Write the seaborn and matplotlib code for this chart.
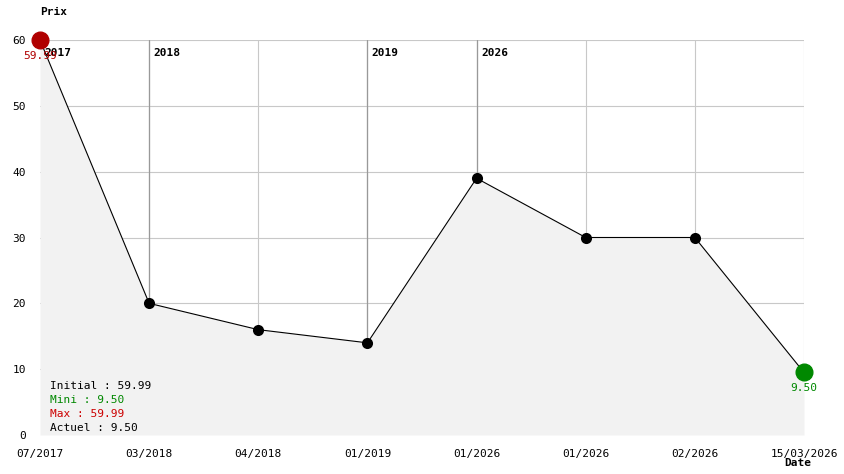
import numpy as np
import pandas as pd
import matplotlib
matplotlib.use("Agg")
import matplotlib.pyplot as plt
import seaborn as sns

# data
dates = ['07/2017', '03/2018', '04/2018', '01/2019', '01/2026', '01/2026', '02/2026', '15/03/2026']
prices = [59.99, 20, 16, 14, 39, 30, 30, 9.50]
year_marks = [(0, '2017'), (1, '2018'), (3, '2019'), (4, '2026')]

sns.set_style("white")
plt.rcParams['font.family'] = ['DejaVu Sans Mono']
plt.rcParams['text.color'] = 'black'
plt.rcParams['xtick.color'] = 'black'
plt.rcParams['ytick.color'] = 'black'

df = pd.DataFrame({'pos': range(len(prices)), 'Prix': prices})

fig = plt.figure(figsize=(8.44, 4.74), dpi=100)
ax = fig.add_axes([40 / 844, 1 - 435 / 474, 764 / 844, 395 / 474])

ax.set_xlim(0, len(prices) - 1)
ax.set_ylim(0, 60)
for s in ax.spines.values():
    s.set_visible(False)

# grid
for v in range(10, 61, 10):
    ax.axhline(v, color='#c8c8c8', lw=0.8, zorder=0)
for i in range(1, len(prices)):
    ax.axvline(i, color='#c8c8c8', lw=0.8, zorder=0)
for i, yr in year_marks:
    if i > 0:
        ax.axvline(i, color='#999999', lw=0.9, zorder=0.5)
    ax.text(i + 0.04, 58.8, yr, fontsize=8, fontweight='bold', va='top', ha='left', zorder=5)

ax.fill_between(df['pos'], df['Prix'], 0, color='#f2f2f2', zorder=1, lw=0)
sns.lineplot(data=df, x='pos', y='Prix', color='black', lw=0.8, marker='o',
             markersize=8, markeredgewidth=0, ax=ax, zorder=3, clip_on=False)

ax.plot(0, prices[0], 'o', color='#b00000', markersize=12, zorder=4, clip_on=False)
ax.plot(len(prices) - 1, prices[-1], 'o', color='#008800', markersize=12, zorder=4, clip_on=False)
ax.text(0, prices[0] - 1.6, f'{prices[0]:.2f}', color='#b00000', fontsize=8, ha='center', va='top', zorder=5)
ax.text(len(prices) - 1, prices[-1] - 1.6, f'{prices[-1]:.2f}', color='#008800', fontsize=8, ha='center', va='top', zorder=5)

ax.set_xticks(range(len(dates)))
ax.set_xticklabels(dates, fontsize=8)
ax.set_yticks(range(0, 61, 10))
ax.set_yticklabels([str(v) for v in range(0, 61, 10)], fontsize=8)
ax.tick_params(length=0, pad=10)
ax.tick_params(axis='y', pad=10)
ax.set_xlabel('')
ax.set_ylabel('')

fig.text(40 / 844, 1 - 12 / 474, 'Prix', fontsize=8, fontweight='bold', ha='left', va='center')
fig.text(798 / 844, 1 - 463 / 474, 'Date', fontsize=8, fontweight='bold', ha='center', va='center')

stats = [('Initial : 59.99', 'black'), ('Mini : 9.50', '#008800'),
         ('Max : 59.99', '#cc0000'), ('Actuel : 9.50', 'black')]
for k, (t, c) in enumerate(stats):
    fig.text(50 / 844, 1 - (386 + 14 * k) / 474, t, color=c, fontsize=8, ha='left', va='center')

fig.savefig('out.png', dpi=100)
